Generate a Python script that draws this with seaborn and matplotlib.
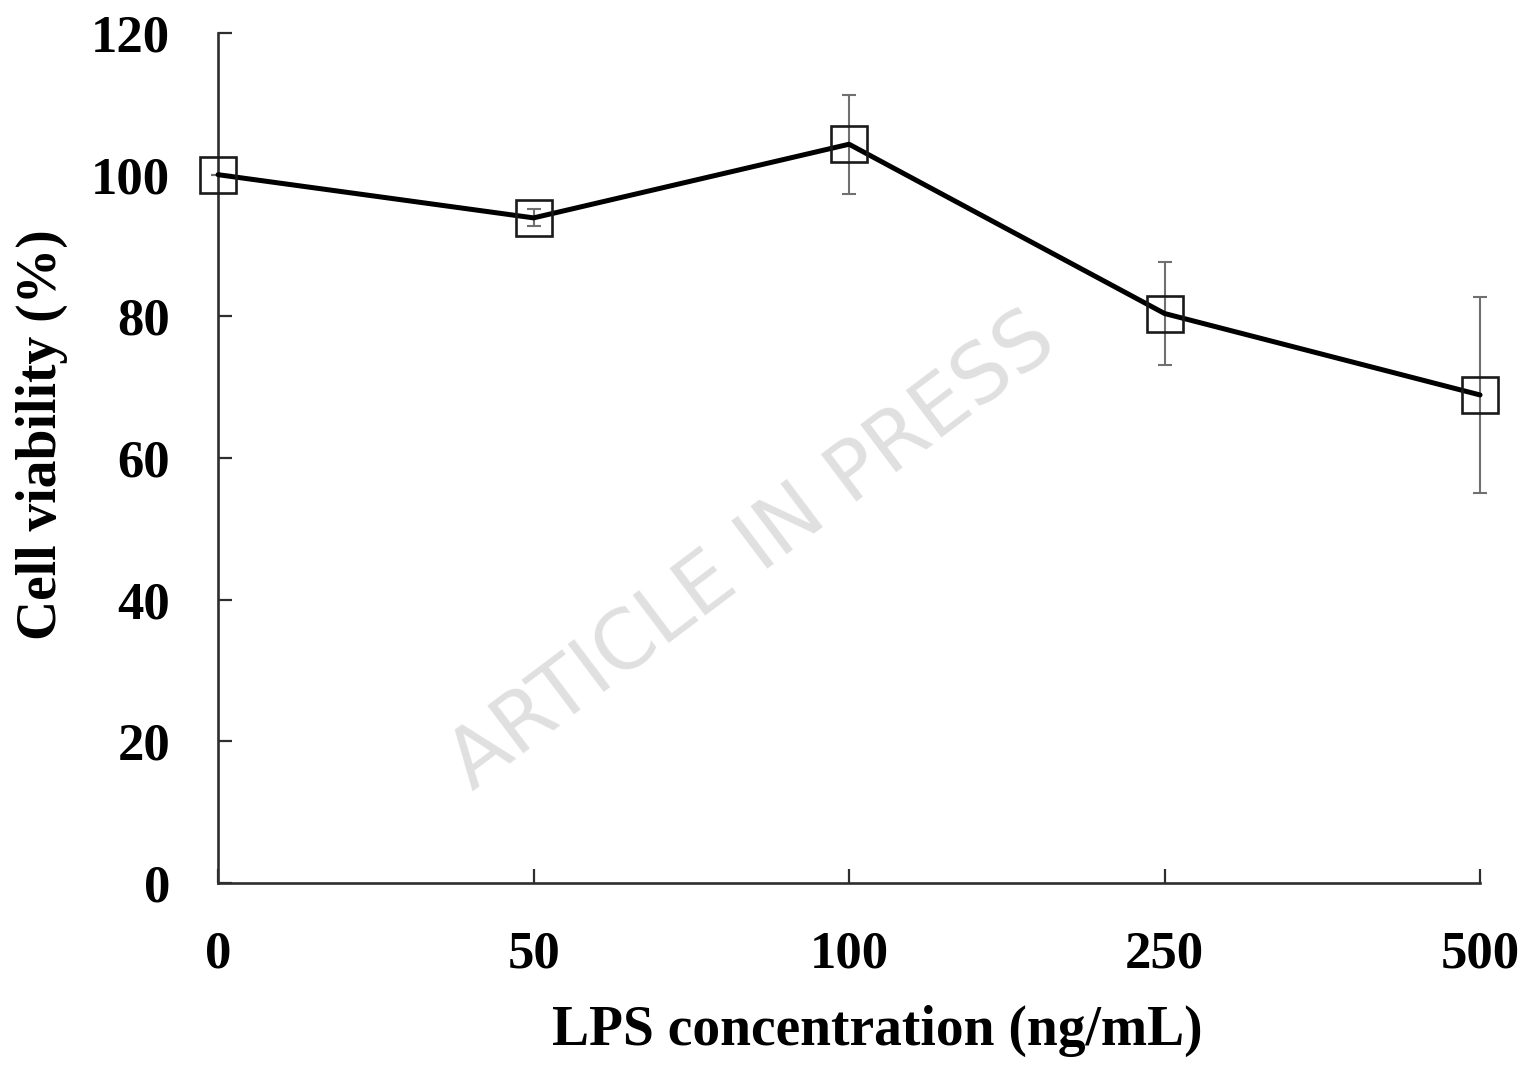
import numpy as np
import pandas as pd
import matplotlib
matplotlib.use("Agg")
import matplotlib.pyplot as plt
import seaborn as sns

# ---- data ----
concentrations = ["0", "50", "100", "250", "500"]
viability = [100.0, 93.9, 104.3, 80.4, 68.9]
viability_err = [0.0, 1.2, 7.0, 7.3, 13.8]
y_ticks = [0, 20, 40, 60, 80, 100, 120]
x_label = "LPS concentration (ng/mL)"
y_label = "Cell viability (%)"
watermark = "ARTICLE IN PRESS"

df = pd.DataFrame({"conc": pd.Categorical(concentrations, categories=concentrations, ordered=True),
                   "viability": viability,
                   "err": viability_err})

sns.set_theme(style="ticks")
plt.rcParams["font.family"] = ["Liberation Serif", "DejaVu Serif"]
plt.rcParams["font.weight"] = "bold"

fig = plt.figure(figsize=(15.39, 10.65), dpi=100)
ax = fig.add_axes([0.1417, 0.1709, 0.9617 - 0.1417, 0.969 - 0.1709])

# error bars (at the categorical positions used by seaborn)
pos = np.arange(len(df))
ax.errorbar(pos, df["viability"], yerr=df["err"], fmt="none", ecolor="#707070",
            elinewidth=1.5, capsize=5, capthick=1.5, zorder=2, clip_on=False)

sns.pointplot(data=df, x="conc", y="viability", errorbar=None, color="black",
              markers="s", markersize=26, markerfacecolor="none",
              markeredgecolor="#1a1a1a", markeredgewidth=1.9, linewidth=3.6,
              ax=ax, zorder=3, clip_on=False)

ax.set_xlim(0, len(concentrations) - 1)
ax.set_ylim(0, 120)
ax.set_yticks(y_ticks)
ax.set_yticklabels([str(t) for t in y_ticks])

sns.despine(ax=ax)
for side in ["left", "bottom"]:
    ax.spines[side].set_color("#2e2e2e")
    ax.spines[side].set_linewidth(1.9)

ax.tick_params(axis="both", direction="in", length=10, width=1.6, color="#2e2e2e",
               labelsize=38, labelcolor="black")
ax.tick_params(axis="y", pad=34.5)
ax.tick_params(axis="x", pad=34)
for lab in ax.get_xticklabels() + ax.get_yticklabels():
    lab.set_fontweight("bold")

ax.set_xlabel(x_label, fontsize=40, fontweight="bold", color="black")
ax.set_ylabel(y_label, fontsize=40, fontweight="bold", color="black")
ax.xaxis.set_label_coords(0.522, -0.1435)
ax.yaxis.set_label_coords(-0.119, 0.528)

fig.text(0.489, 0.482, watermark, rotation=37, fontsize=59, color="#e0e0e0",
         family="DejaVu Sans", fontweight="normal", ha="center", va="center",
         rotation_mode="anchor", zorder=0)

fig.savefig("out.png", dpi=100, facecolor="white")
